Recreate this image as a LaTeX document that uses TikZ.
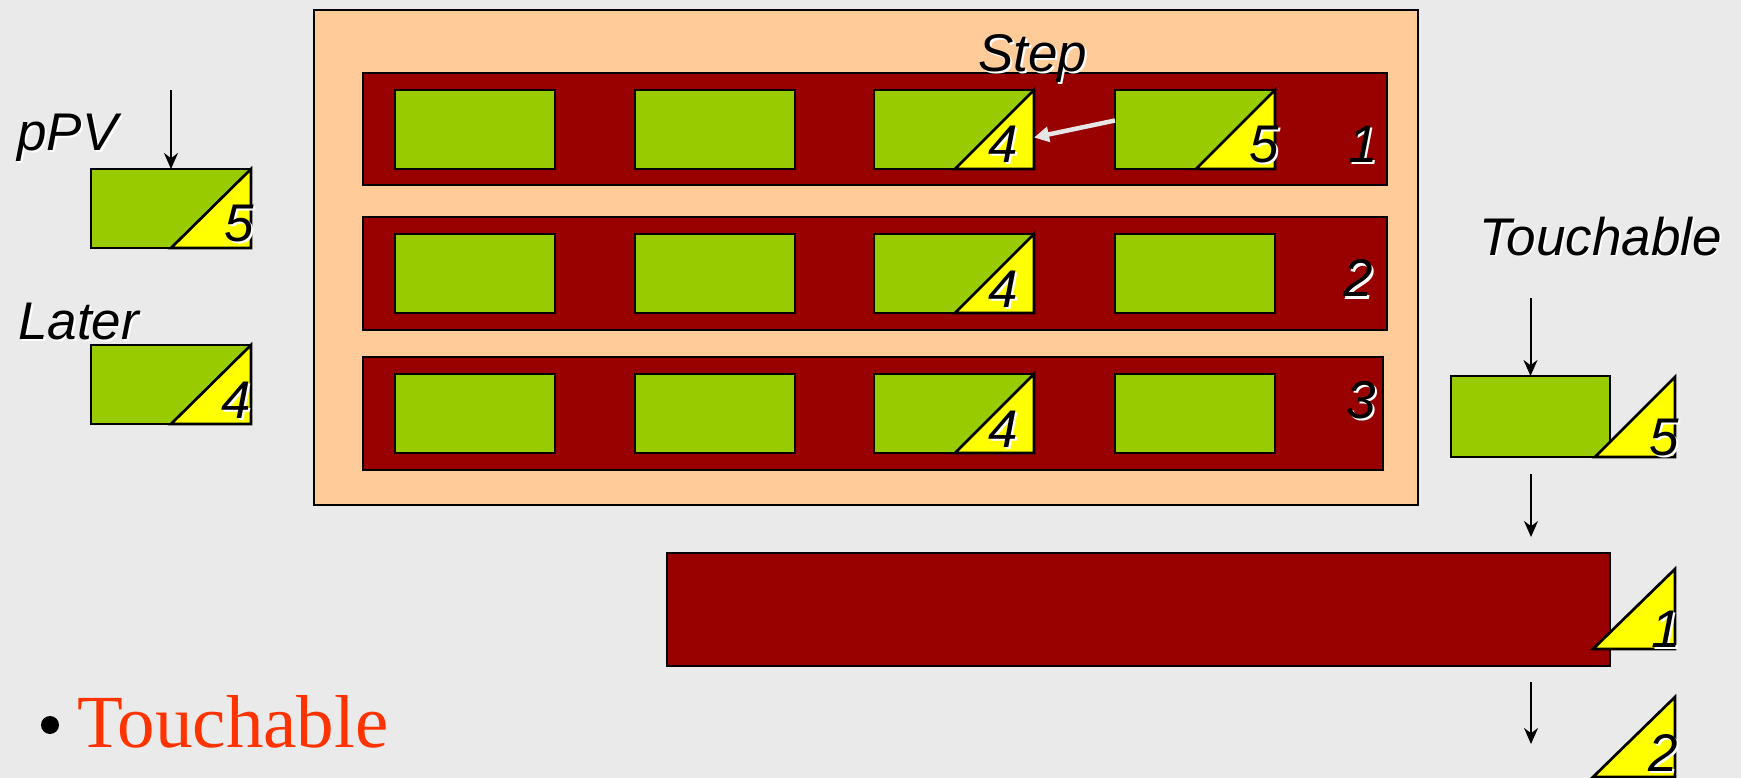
\documentclass[tikz,border=0pt]{standalone}
\usepackage{fontspec}
\newfontfamily\labfont{Liberation Sans}
\newfontfamily\serfont{Liberation Serif}
\usetikzlibrary{arrows.meta}
\definecolor{bgc}{HTML}{EAEAEA}
\definecolor{peach}{HTML}{FFCC99}
\definecolor{maroon}{HTML}{990000}
\definecolor{leaf}{HTML}{99CC00}
\definecolor{yel}{HTML}{FFFF00}
\definecolor{redtxt}{HTML}{FF3300}
\definecolor{pale}{HTML}{E6E6E6}
\tikzset{
  box/.style={draw=black, line width=2.7pt, inner sep=0pt, outer sep=0pt, anchor=north west},
  greenbox/.style={box, fill=leaf, minimum width=160pt, minimum height=79pt},
  rowbox/.style={box, fill=maroon},
  tri/.style={fill=yel, draw=black, line width=2.7pt, line join=miter},
  lbl/.style={font=\labfont\itshape\fontsize{53pt}{60pt}\selectfont, inner sep=0pt, text=black},
  lblsh/.style={lbl, text=white, xshift=2pt, yshift=-2pt},
  arr/.style={line width=2pt, -{Stealth[length=16pt,width=14pt]}},
  warr/.style={draw=pale, line width=4.5pt, -{Triangle[length=15pt,width=15pt]}}
}
\newcommand\shlab[4]{\node[lblsh,anchor=#3] (#1s) at #2 {#4};\node[lbl,anchor=#3] (#1) at #2 {#4};}
\begin{document}
\begin{tikzpicture}[x=1pt,y=-1pt]
\fill[bgc] (0,0) rectangle (1741,778);
\useasboundingbox (0,0) rectangle (1741,778);
% big peach frame
\node[box, fill=peach, minimum width=1104pt, minimum height=495pt] (frame) at (314,10) {};
% rows
\node[rowbox, minimum width=1024pt, minimum height=112pt] (row1) at (363,73) {};
\node[rowbox, minimum width=1024pt, minimum height=113pt] (row2) at (363,217) {};
\node[rowbox, minimum width=1020pt, minimum height=113pt] (row3) at (363,357) {};
% green boxes
\foreach \r/\y in {1/90, 2/234, 3/374}{
  \foreach \c/\x in {1/395, 2/635, 3/874, 4/1115}{
    \node[greenbox] (g\r\c) at (\x,\y) {};
  }
  \fill[tri] (g\r3.north east) -- (g\r3.south east) -- ([xshift=-79pt]g\r3.south east) -- cycle;
}
\fill[tri] (g14.north east) -- (g14.south east) -- ([xshift=-79pt]g14.south east) -- cycle;
% numbers in row boxes
\shlab{n13}{(1003,163)}{base}{4}
\shlab{n14}{(1264,163)}{base}{5}
\shlab{n23}{(1003,307)}{base}{4}
\shlab{n33}{(1003,447)}{base}{4}
\shlab{r1}{(1363,163)}{base}{1}
\shlab{r2}{(1358,297)}{base}{2}
\shlab{r3}{(1361,418)}{base}{3}
\shlab{step}{(978,72)}{base west}{Step}
% white arrow
\draw[warr] ([yshift=9pt]g14.west) -- ([yshift=-8pt]g13.east);
% left side
\node[greenbox] (ppv) at (91,169) {};
\fill[tri] (ppv.north east) -- (ppv.south east) -- ([xshift=-80pt]ppv.south east) -- cycle;
\node[greenbox] (later) at (91,345) {};
\fill[tri] (later.north east) -- (later.south east) -- ([xshift=-80pt]later.south east) -- cycle;
\shlab{ppvlab}{(17,151)}{base west}{pPV}
\shlab{laterlab}{(18,339)}{base west}{Later}
\shlab{n5l}{(239,242)}{base}{5}
\shlab{n4l}{(236,418)}{base}{4}
\coordinate (ppvtop) at (171,90);
\draw[arr] (ppvtop) -- (ppv.north);
% right side
\shlab{touch}{(1479,255)}{base west}{Touchable}
\node[greenbox, minimum width=159pt, minimum height=81pt] (tbox) at (1451,376) {};
\coordinate (touchtop) at (1530.5,298);
\draw[arr] (touchtop) -- (tbox.north);
\coordinate (t5a) at (1595,457);
\coordinate (t5b) at (1675,457);
\coordinate (t5c) at (1675,377);
\fill[tri] (t5a) -- (t5b) -- (t5c) -- cycle;
\shlab{n5r}{(1664,455)}{base}{5}
\coordinate (a1s) at (1531,474);
\coordinate (a1e) at (1531,537);
\draw[arr] (a1s) -- (a1e);
\node[rowbox, minimum width=943pt, minimum height=113pt] (bottom) at (667,553) {};
\coordinate (t1a) at (1593,649);
\coordinate (t1b) at (1675,649);
\coordinate (t1c) at (1675,569);
\fill[tri] (t1a) -- (t1b) -- (t1c) -- cycle;
\shlab{n1r}{(1666,647)}{base}{1}
\coordinate (a2s) at (1531,682);
\coordinate (a2e) at (1531,744);
\draw[arr] (a2s) -- (a2e);
\coordinate (t2a) at (1593,777);
\coordinate (t2b) at (1675,777);
\coordinate (t2c) at (1675,697);
\fill[tri] (t2a) -- (t2b) -- (t2c) -- cycle;
\shlab{n2r}{(1663,771)}{base}{2}
% bullet
\fill[black] (50,725) circle (9pt);
\node[font=\serfont\fontsize{75pt}{80pt}\selectfont, text=redtxt, inner sep=0pt, anchor=base west] (touchbul) at (77,747) {Touchable};
\end{tikzpicture}
\end{document}
